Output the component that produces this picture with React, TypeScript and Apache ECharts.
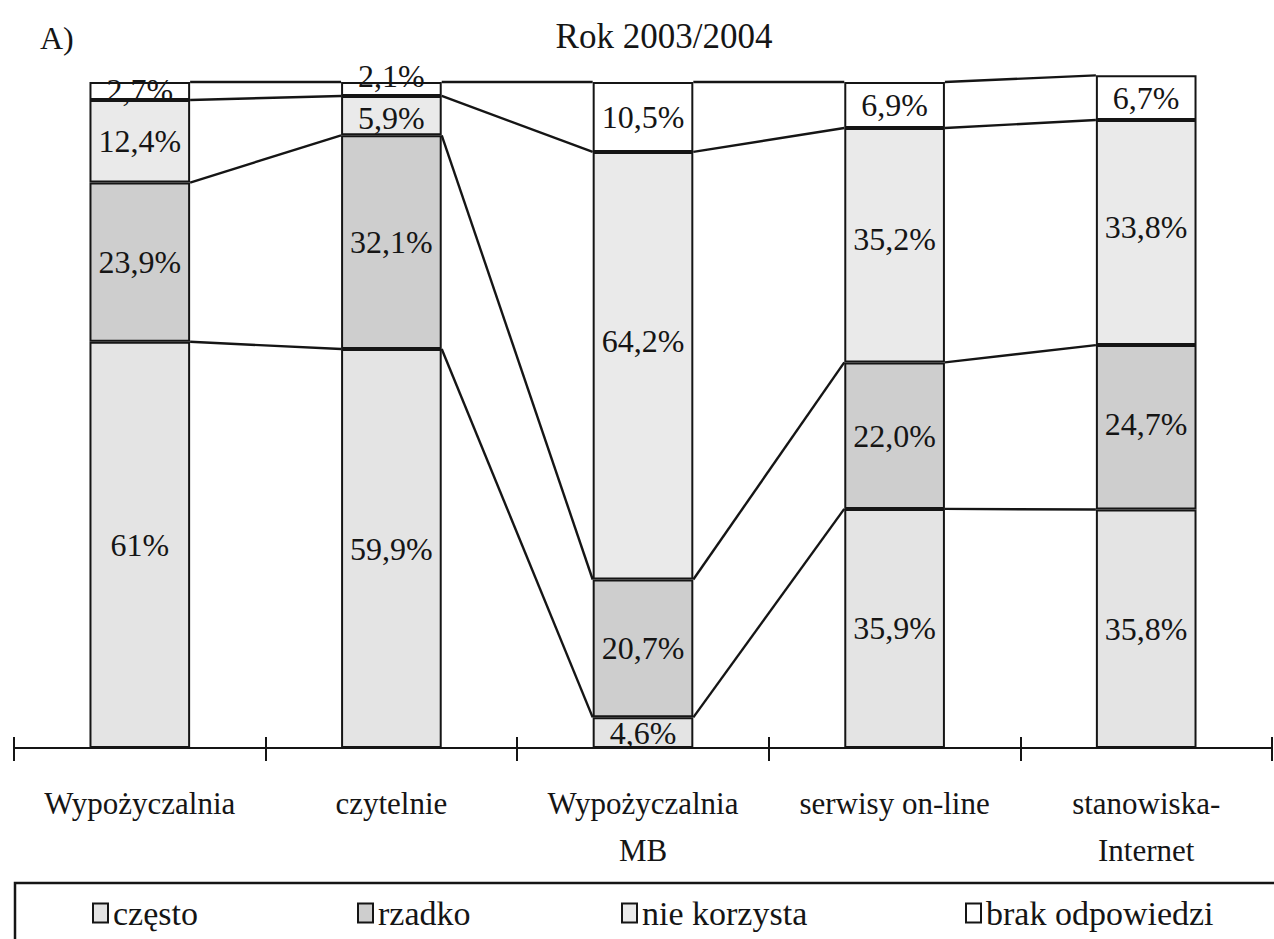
import React, { useEffect, useRef } from "react";
import * as echarts from "echarts";

const categories = ["Wypożyczalnia", "czytelnie", "Wypożyczalnia\nMB", "serwisy on-line", "stanowiska-\nInternet"];
const seriesNames = ["często", "rzadko", "nie korzysta", "brak odpowiedzi"];
const czesto = [61, 59.9, 4.6, 35.9, 35.8];
const rzadko = [23.9, 32.1, 20.7, 22.0, 24.7];
const nieKorzysta = [12.4, 5.9, 64.2, 35.2, 33.8];
const brakOdpowiedzi = [2.7, 2.1, 10.5, 6.9, 6.7];
const czestoLabels = ["61%", "59,9%", "4,6%", "35,9%", "35,8%"];
const rzadkoLabels = ["23,9%", "32,1%", "20,7%", "22,0%", "24,7%"];
const nieKorzystaLabels = ["12,4%", "5,9%", "64,2%", "35,2%", "33,8%"];
const brakLabels = ["2,7%", "2,1%", "10,5%", "6,9%", "6,7%"];
const title = "Rok 2003/2004";
const panelLabel = "A)";

const FONT = "'Liberation Serif', serif";
const INK = "#151515";

export default function App() {
  const ref = useRef<HTMLDivElement>(null);

  useEffect(() => {
    if (!ref.current) return;
    const chart = echarts.init(ref.current, undefined, { renderer: "svg" });

    const values = [czesto, rzadko, nieKorzysta, brakOdpowiedzi];
    const labels = [czestoLabels, rzadkoLabels, nieKorzystaLabels, brakLabels];
    const colors = ["#e4e4e4", "#cecece", "#eaeaea", "#ffffff"];

    const cum: number[][] = [];
    let running = categories.map(() => 0);
    values.forEach((arr) => {
      running = running.map((r, i) => r + arr[i]);
      cum.push(running.slice());
    });
    const connectorData: number[][] = [];
    cum.forEach((level) => {
      for (let i = 0; i < categories.length - 1; i++) {
        connectorData.push([i, level[i], level[i + 1]]);
      }
    });

    const labelOffsets: Record<string, number[]> = {
      "2-2": [0, -25],
      "2-1": [0, 2],
      "3-0": [0, -1],
      "3-1": [0, -13],
      "1-4": [0, -3],
      "2-3": [0, -6],
      "2-4": [0, -6],
    };

    const barSeries = values.map((arr, s) => ({
      name: seriesNames[s],
      type: "bar",
      stack: "total",
      barWidth: "40%",
      xAxisIndex: 0,
      data: arr.map((v, i) => {
        const item: any = { value: v };
        const off = labelOffsets[`${s}-${i}`];
        if (off) item.label = { offset: off };
        return item;
      }),
      itemStyle: { color: colors[s], borderColor: INK, borderWidth: 2 },
      label: {
        show: true,
        position: "inside",
        fontFamily: FONT,
        fontSize: 32,
        color: INK,
        formatter: (p: any) => labels[s][p.dataIndex],
      },
      emphasis: { disabled: true },
    }));

    const connectorSeries = {
      type: "custom",
      name: "connectors",
      xAxisIndex: 0,
      data: connectorData,
      encode: { x: 0, y: 1 },
      clip: false,
      silent: true,
      renderItem: (params: any, api: any) => {
        const i = api.value(0);
        const v1 = api.value(1);
        const v2 = api.value(2);
        const p1 = api.coord([i, v1]);
        const p2 = api.coord([i + 1, v2]);
        const half = (api.size([1, 0])[0] * 0.4) / 2;
        return {
          type: "line",
          shape: { x1: p1[0] + half, y1: p1[1], x2: p2[0] - half, y2: p2[1] },
          style: { stroke: INK, lineWidth: 2.4 },
        };
      },
    };

    const legendLefts = [92, 357, 621, 965];
    const legends = seriesNames.map((n, k) => ({
      data: [n],
      left: legendLefts[k],
      top: 896,
      padding: 0,
      icon: "rect",
      itemWidth: 15,
      itemHeight: 19,
      itemGap: 5,
      textStyle: { fontFamily: FONT, fontSize: 34, color: INK },
      selectedMode: false,
    }));

    chart.setOption({
      animation: false,
      backgroundColor: "#ffffff",
      textStyle: { fontFamily: FONT },
      grid: { left: 14, right: 2, top: 48.7, bottom: 191, containLabel: false },
      title: {
        text: title,
        left: 659,
        textAlign: "center",
        top: 14,
        textStyle: { fontFamily: FONT, fontSize: 35, fontWeight: "normal", color: INK },
      },
      legend: legends,
      xAxis: [
        {
          type: "category",
          data: categories,
          boundaryGap: true,
          axisLine: { show: true, lineStyle: { color: INK, width: 2 } },
          axisTick: { show: true, length: 13, lineStyle: { color: INK, width: 2 } },
          axisLabel: {
            fontFamily: FONT,
            fontSize: 31,
            color: INK,
            margin: 32,
            lineHeight: 47,
            interval: 0,
          },
          splitLine: { show: false },
        },
        {
          type: "category",
          data: categories,
          position: "bottom",
          boundaryGap: true,
          axisLine: { show: false },
          axisTick: { show: true, inside: true, length: 11, lineStyle: { color: INK, width: 2 } },
          axisLabel: { show: false },
          splitLine: { show: false },
        },
      ],
      yAxis: {
        type: "value",
        min: 0,
        max: 105,
        show: false,
        splitLine: { show: false },
      },
      graphic: [
        {
          type: "text",
          left: 40,
          top: 22,
          style: { text: panelLabel, font: `32px ${FONT}`, fill: INK },
        },
        {
          type: "rect",
          shape: { x: 15, y: 883, width: 1300, height: 120 },
          style: { fill: "none", stroke: INK, lineWidth: 2.5 },
          silent: true,
        },
      ],
      series: [...barSeries, connectorSeries],
    });

    return () => chart.dispose();
  }, []);

  return (
    <div
      ref={ref}
      style={{ position: "fixed", left: 0, top: 0, width: 1274, height: 939, background: "#fff" }}
    />
  );
}
